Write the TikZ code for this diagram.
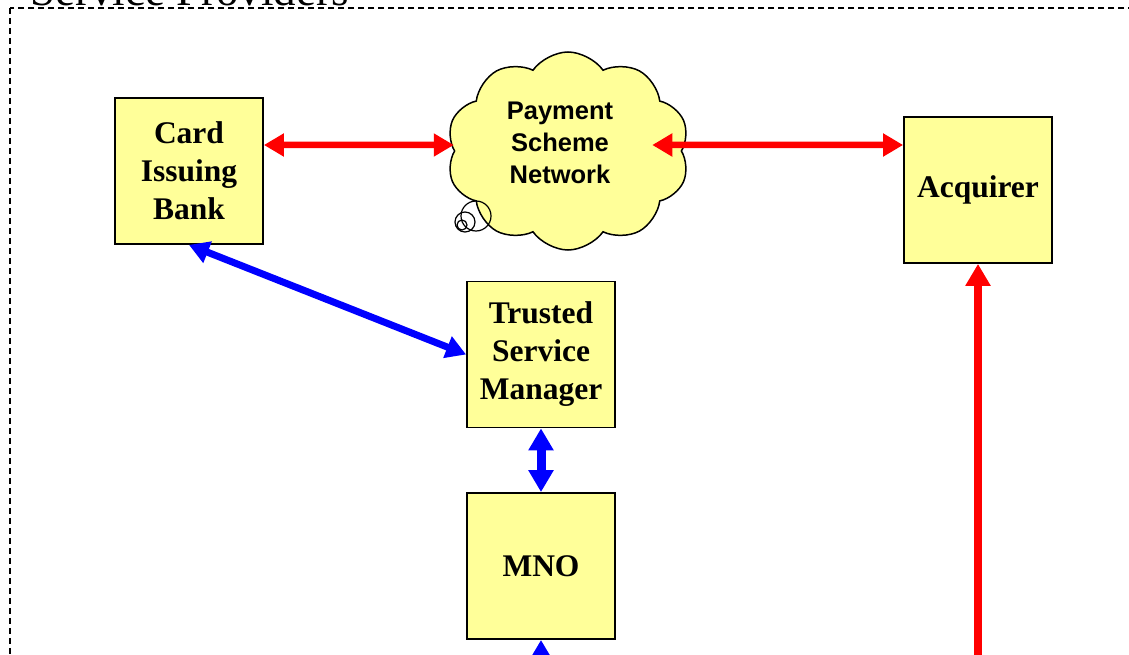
\documentclass[tikz,border=0pt]{standalone}
\usepackage{fontspec}
\setmainfont{Liberation Serif}
\newfontfamily\arialf{Liberation Sans}
\usetikzlibrary{arrows.meta,shapes.symbols}
\definecolor{boxyellow}{HTML}{FFFF99}
\begin{document}
\begin{tikzpicture}[x=1pt,y=-1pt,
  box/.style={draw=black, line width=1.8pt, fill=boxyellow, minimum width=148pt, minimum height=146pt, inner sep=0pt, align=center, font=\fontsize{31.5}{38}\selectfont\bfseries},
  redarr/.style={draw=red, line width=6.5pt, {Triangle[length=20pt,width=22pt]}-{Triangle[length=20pt,width=22pt]}},
  bluearr/.style={draw=blue, line width=7pt, {Triangle[length=20pt,width=22pt]}-{Triangle[length=20pt,width=22pt]}},
  fatblue/.style={draw=blue, line width=9pt, {Triangle[length=22pt,width=24pt]}-{Triangle[length=22pt,width=24pt]}},
  uparr/.style={line width=8pt, -{Triangle[length=22pt,width=24pt]}}
]
\useasboundingbox (0,0) rectangle (1129,655);
\clip (0,0) rectangle (1129,655);
\draw[dashed, dash pattern=on 6pt off 4pt, line width=1.3pt] (10,8) rectangle (1200,720);
\node[anchor=base west, font=\fontsize{45}{45}\selectfont, inner sep=0pt] (title) at (30,6) {Service Providers};

\node[box] (cib) at (189,171) {Card\\Issuing\\Bank};
\node[box] (acq) at (978,190) {Acquirer};
\node[box] (tsm) at (541,354.5) {Trusted\\Service\\Manager};
\node[box] (mno) at (541,566) {MNO};

\node[cloud, cloud puffs=10, cloud puff arc=110, draw=black, fill=boxyellow, line width=1.5pt, minimum width=243pt, minimum height=198pt, inner sep=0pt] (psn) at (568,151) {};
\node[align=center, font=\fontsize{25.5}{32}\arialf\bfseries, inner sep=0pt] (psntext) at (560,143) {Payment\\Scheme\\Network};
\draw[line width=1.2pt] (476,216) circle (15);
\draw[line width=1.2pt] (465,222) circle (10);
\draw[line width=1.2pt] (462,225) circle (5);

\coordinate (mnob) at (541,720);
\coordinate (acqb) at (978,720);

\draw[redarr] ([yshift=26pt]cib.east) -- ([yshift=6pt]psn.west);
\draw[redarr] ([xshift=-30pt,yshift=6pt]psn.east) -- ([yshift=45pt]acq.west);
\draw[bluearr] (cib.south) -- (tsm.west);
\draw[fatblue] (tsm.south) -- (mno.north);
\draw[uparr, draw=blue] (mnob) -- (mno.south);
\draw[uparr, draw=red] (acqb) -- (acq.south);
\end{tikzpicture}
\end{document}
